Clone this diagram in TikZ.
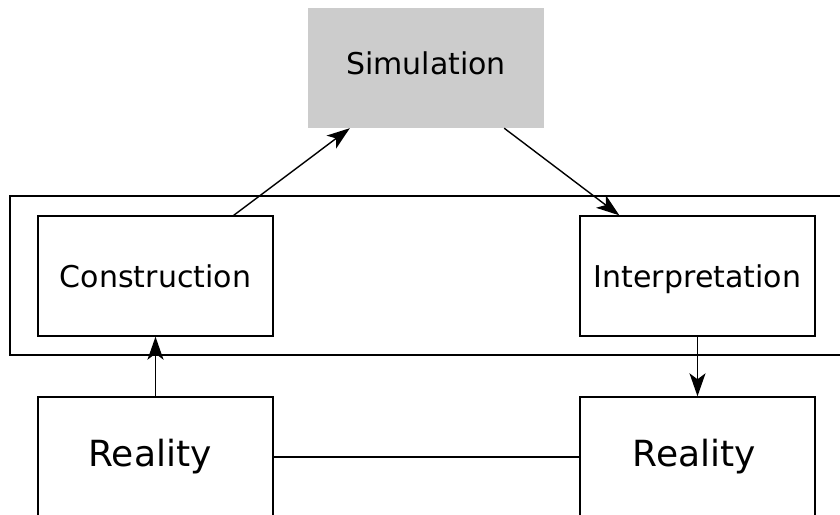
\documentclass[tikz,border=0pt]{standalone}
\usepackage{fontspec}
\setmainfont{DejaVu Sans}
\usetikzlibrary{arrows.meta}
\definecolor{simgray}{HTML}{CCCCCC}
\tikzset{
  box/.style={draw=black, line width=1.4pt, minimum width=235pt, minimum height=120pt, inner sep=0pt,
    font=\fontsize{30}{36}\selectfont, text height=22pt, text depth=0pt},
  realbox/.style={draw=black, line width=1.4pt, minimum width=235pt, minimum height=120pt, inner sep=0pt,
    font=\fontsize{36}{42}\selectfont},
  simbox/.style={fill=simgray, minimum width=236pt, minimum height=120pt, inner sep=0pt,
    font=\fontsize{30}{36}\selectfont, text height=22pt, text depth=10pt},
  frame/.style={draw=black, line width=1.4pt, inner sep=0pt},
  arr/.style={line width=1.4pt, -{Stealth[length=23pt,width=16pt,inset=6pt]}},
  conn/.style={line width=1.4pt}
}
\begin{document}
\begin{tikzpicture}[x=1pt,y=-1pt]
\clip (0,0) rectangle (840,514);
\useasboundingbox (0,0) rectangle (840,514);
\node[frame, minimum width=833pt, minimum height=159pt] (outer) at (426.5,275.5) {};
\node[simbox] (sim) at (426,68) {Simulation};
\node[box] (con) at (155.5,276) {Construction};
\node[box] (interp) at (697.5,276) {Interpretation};
\node[realbox] (realL) at (155.5,457) {Reality\hspace*{11pt}};
\node[realbox] (realR) at (697.5,457) {Reality\hspace*{6pt}};
\draw[arr] ([xshift=-40pt]con.north east) -- ([xshift=42pt]sim.south west);
\draw[arr] ([xshift=-40pt]sim.south east) -- ([xshift=40pt]interp.north west);
\draw[arr] (realL.north) -- (con.south);
\draw[arr] (interp.south) -- (realR.north);
\draw[conn] (realL.east) -- (realR.west);
\end{tikzpicture}
\end{document}
